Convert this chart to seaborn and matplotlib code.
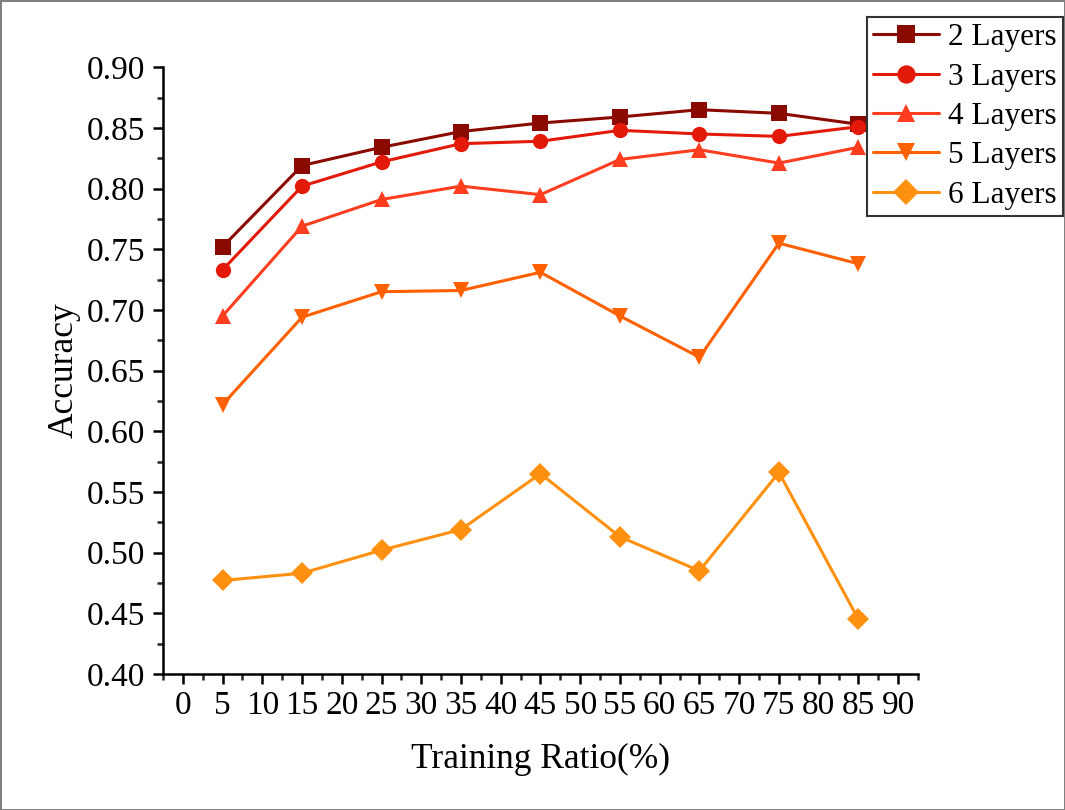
import pandas as pd
import matplotlib.pyplot as plt
import seaborn as sns
from matplotlib.ticker import MultipleLocator

# training ratios (%)
ratios = [5, 15, 25, 35, 45, 55, 65, 75, 85]

# accuracy per number of layers
acc_2 = [0.752, 0.819, 0.834, 0.847, 0.854, 0.859, 0.865, 0.862, 0.853]
acc_3 = [0.733, 0.802, 0.822, 0.837, 0.839, 0.848, 0.845, 0.843, 0.851]
acc_4 = [0.695, 0.769, 0.791, 0.802, 0.795, 0.824, 0.832, 0.821, 0.834]
acc_5 = [0.622, 0.694, 0.715, 0.716, 0.731, 0.695, 0.661, 0.755, 0.738]
acc_6 = [0.477, 0.483, 0.502, 0.519, 0.565, 0.513, 0.485, 0.566, 0.445]

labels = ["2 Layers", "3 Layers", "4 Layers", "5 Layers", "6 Layers"]
colors = ["#8B0A00", "#E3190A", "#FF3E20", "#FF6000", "#FF9010"]
markers = ["s", "o", "^", "v", "D"]

rows = []
for lab, vals in zip(labels, [acc_2, acc_3, acc_4, acc_5, acc_6]):
    for r, v in zip(ratios, vals):
        rows.append({"ratio": r, "acc": v, "layers": lab})
df = pd.DataFrame(rows)

sns.set_style("ticks")
plt.rcParams["font.family"] = ["Liberation Serif", "DejaVu Serif"]
plt.rcParams["text.color"] = "black"
plt.rcParams["axes.labelcolor"] = "black"

fig = plt.figure(figsize=(10.65, 8.1), dpi=100)
ax = fig.add_axes([0.153, 0.168, 0.709, 0.749])

sns.lineplot(data=df, x="ratio", y="acc", hue="layers", style="layers",
             markers=markers, dashes=False, palette=colors, hue_order=labels,
             style_order=labels, markersize=11, markeredgewidth=0,
             linewidth=2.2, ax=ax)

ax.set_xlim(-2.5, 92.5)
ax.set_ylim(0.40, 0.90)
ax.xaxis.set_major_locator(MultipleLocator(5))
ax.xaxis.set_minor_locator(MultipleLocator(2.5))
ax.yaxis.set_major_locator(MultipleLocator(0.05))
ax.yaxis.set_minor_locator(MultipleLocator(0.025))
ax.yaxis.set_major_formatter(plt.FormatStrFormatter("%.2f"))

ax.tick_params(which="major", direction="out", length=7, width=1.8,
               labelsize=24, colors="black")
ax.tick_params(which="minor", direction="out", length=4, width=1.8)
ax.tick_params(axis="x", pad=5)
ax.tick_params(axis="y", pad=6)

for s in ["top", "right"]:
    ax.spines[s].set_visible(False)
for s in ["left", "bottom"]:
    ax.spines[s].set_linewidth(1.8)
    ax.spines[s].set_color("black")

ax.set_xlabel("Training Ratio(%)", fontsize=25.5, labelpad=16)
ax.set_ylabel("Accuracy", fontsize=25.5, labelpad=4)

handles, labs = ax.get_legend_handles_labels()
leg = fig.legend(handles, labs, loc="upper right",
                 bbox_to_anchor=(1063 / 1065, 1 - 17 / 810),
                 fontsize=22.5, frameon=True, fancybox=False,
                 borderaxespad=0, handlelength=2.1, labelspacing=0.33,
                 borderpad=0.2, handletextpad=0.3, markerscale=1.2)
leg.get_frame().set_edgecolor("black")
leg.get_frame().set_linewidth(1.5)
ax.get_legend().remove()

fig.patch.set_edgecolor("gray")
fig.patch.set_linewidth(2)

fig.savefig("out.png", dpi=100)
